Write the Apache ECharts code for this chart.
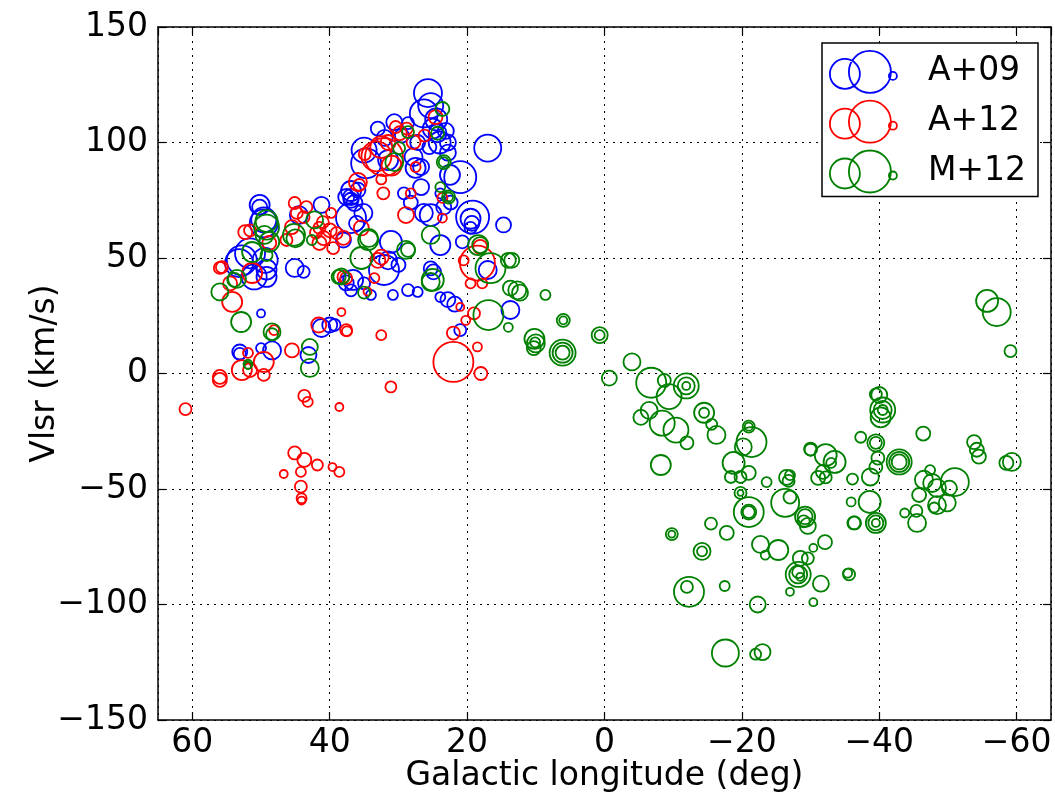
<!DOCTYPE html>
<html>
<head>
<meta charset="utf-8">
<script src="https://cdn.jsdelivr.net/npm/echarts@6/dist/echarts.min.js"></script>
<style>
html,body{margin:0;padding:0;background:#fff;}
#chart{width:1055px;height:793px;}
</style>
</head>
<body>
<div id="chart"></div>
<script>
// Each point: [galactic longitude (deg), Vlsr (km/s), marker amplitude]
const seriesNames = ['A+09', 'A+12', 'M+12'];
const xTicks = [60, 40, 20, 0, -20, -40, -60];
const yTicks = [-150, -100, -50, 0, 50, 100, 150];

const a09 = [
  [50.2,73,20],[50.2,72,15],[49.6,66.5,25],[41.2,73,16],[44.5,68.6,18],[51.6,52,30],[45.1,45.7,18],[43.8,44,12],
  [53.2,47.8,28],[49.4,49,25],[49.2,45,20],[52.8,49,30],[51,41.8,25],[49.2,41.8,20],[38,57.8,15],[36.9,79,20],
  [36.9,75,15],[50,26,8],[53.1,9.3,15],[53.1,8.5,12],[50,11,10],[48.4,10,18],[41.2,19.7,18],[40,21,15],
  [39.3,21,12],[43.1,8,16],[36.6,40.5,20],[25.7,121.4,28],[25.3,116,25],[26.3,112.6,28],[24.5,110,22],[25,106,20],
  [33,106,14],[30.6,108.8,16],[28.6,108.4,12],[27.2,100,15],[24.3,104,18],[23.1,105,16],[22.8,100,16],[22.8,95.6,16],
  [17,97.6,27],[21,85,32],[22.5,86,20],[27.8,93.7,18],[26.7,89.4,16],[27.5,89,20],[35,96.7,25],[34.7,91,30],
  [31.5,92.4,20],[26.7,80.7,16],[29.2,78,12],[28.2,74,14],[35.9,79.4,15],[36.9,76.4,16],[36.4,73.8,16],[23.9,78,10],
  [23.4,72,15],[22.4,74,14],[29.5,103,14],[32,102,16],[25.5,98,14],[24,100,22],[31.1,57,22],[32.1,44.8,30],
  [26.3,69.5,18],[25.3,68.6,22],[23.9,55.6,20],[24.9,44,15],[28.6,36.1,12],[27.2,35.3,10],[23.9,33.1,10],[19.2,67.7,33],
  [19.5,67,20],[19.3,65,15],[19.5,63,12],[14.7,64.3,15],[20.7,57,13],[17,44.8,18],[36.9,67.3,30],[37.6,39.2,15],
  [36.9,36,12],[34,34,10],[30.8,34,10],[30,47,14],[31.5,49,18],[13.7,27.5,18],[21,18.8,12],[22.8,32,15],
  [21.8,30,15],[36.1,65,15],[35.1,69.5,18],[25.3,45.5,14],[35,39,12],[49.6,65,28],[37.6,76.4,16]
];

const a12 = [
  [61,-15.4,12],[56,-1.5,14],[56,-2.8,14],[54.2,31,20],[52.8,1.5,20],[51.6,1.5,14],[49.6,5,20],[49.6,-0.6,12],
  [51.9,8.9,10],[48.1,18.8,10],[45.5,10,14],[41.6,21,15],[38.3,26.6,8],[37.6,18.8,12],[37.5,18.3,10],[43.7,-9.7,12],
  [43.2,-12.3,10],[38.6,-14.5,8],[45.1,-34.4,13],[43.7,-37.4,14],[41.8,-39.6,11],[46.7,-43.5,8],[44.2,-42.6,10],[39.6,-40.5,8],
  [38.6,-42.6,10],[44.2,-49,12],[44.1,-54,10],[44.1,-55,8],[32.5,16.6,10],[31.1,-5.8,11],[22,5,40],[18,0,13],
  [18.5,11.5,9],[22,17.5,13],[20.2,23,9],[19,26,12],[21,28.8,8],[18.5,47.8,35],[20.5,49,10],[19.5,39,10],
  [17.8,39,10],[33.5,41.3,10],[32.5,50.4,15],[34.5,35.5,8],[56,45.7,12],[52.3,61.2,14],[51.6,62,12],[45.1,73.8,12],
  [44.8,69.5,12],[43.8,67.7,12],[45.5,63.4,14],[43.4,72,12],[41.5,63,12],[40.9,58.6,14],[39.8,69.5,10],[40,62,14],
  [39,60.8,12],[38,58.7,14],[39.5,54.3,12],[41.5,56.5,14],[35.7,81.6,12],[38,41.8,12],[54.5,39,14],[55.7,46,12],
  [51.3,43.5,20],[32.1,93.7,38],[32.5,98,22],[31.5,100,15],[30.4,106.7,12],[27.8,100.2,14],[27.5,89.4,10],[24.6,111,14],
  [35.9,82.9,18],[32.2,78,12],[28.2,78,10],[23.6,76,10],[28.9,68.6,16],[23.6,67.3,9],[35.4,63,15],[33,49,15],
  [37.6,41.3,12],[18.1,54.8,14],[29.8,104,14],[28.8,106,12],[33.2,94,30],[31,90,20],[26.2,103,12],[34.9,95,12],
  [32.5,84,10],[46.3,57.8,12],[42,61,12],[41,65.5,12],[48.8,56.5,14]
];

const m12 = [
  [56,35.3,17],[52.9,22.3,20],[48.4,18,17],[48.4,17,12],[51.9,4,9],[51.9,3.5,7],[42.9,11.5,16],[42.9,2.4,18],
  [53.9,40.5,14],[53.5,41,18],[38.7,41.8,14],[49.2,63.4,25],[49.2,66,22],[49.5,60,18],[48.8,57,20],[45.2,60,22],
  [45,58.5,18],[42.2,66.5,17],[51.3,52.6,20],[49.2,51.3,12],[42.6,57.8,10],[34.4,57.8,20],[35.4,50,22],[35,35,12],
  [38.3,42,16],[34.3,58.7,18],[28.9,53.5,18],[28.6,53.5,14],[25.3,60,18],[25,40.5,22],[25.3,39.6,18],[18.4,55.6,20],
  [18.1,55.6,16],[16.6,45.6,30],[13.5,49,15],[14,49,15],[13.7,37,15],[12.7,36,18],[12.3,35,16],[8.6,34,10],
  [6,23,13],[6,23,8],[10.2,15,20],[10,13,18],[10.3,11,14],[10.1,13.5,10],[6.1,9,26],[6.1,9,20],
  [6.1,9,14],[16.9,25.3,30],[14,20,9],[23.6,114.5,14],[24.3,104,13],[28.6,104.5,12],[29.9,97.6,12],[30.6,91.5,18],
  [23.4,91.5,14],[23.4,91.5,10],[23.9,80.7,10],[22.7,76.4,13],[22.7,76.4,9],
  [0.7,16.6,16],[0.7,16.6,10],[-4,5,17],[-0.7,-2,15],[-6.8,-4,30],[-8.7,-3,13],[-11.9,-5.4,25],[-11.9,-5.4,17],
  [-11.9,-5.4,8],[-9.4,-10,25],[-6.5,-16,17],[-5.3,-19,15],[-8.4,-21.5,25],[-10.4,-24.5,25],[-12,-30,13],[-8.2,-39.6,20],
  [-14.5,-17,20],[-14.5,-17,10],[-15.6,-22,11],[-16.3,-26.6,18],[-21,-23,12],[-21,-23,8],[-21.4,-29.7,30],[-20.2,-31.8,17],
  [-18.8,-38.7,22],[-18.4,-44.8,12],[-19.8,-44.8,12],[-21,-43,14],[-19.8,-51.7,12],[-19.8,-51.7,6],[-21,-60,30],[-21,-60,15],
  [-21,-60,12],[-23.6,-47,10],[-26.5,-45,15],[-26.8,-46.5,12],[-27,-44,10],[-26.3,-56,28],[-27,-53.5,13],[-29.2,-62,20],
  [-29.2,-62,15],[-29,-64,12],[-29.6,-66,16],[-30,-33,12],[-15.5,-65,12],[-17.8,-69,14],[-9.8,-69.5,12],[-9.8,-69.5,7],
  [-14.2,-77,17],[-14.2,-77,10],[-22.7,-74,17],[-23.4,-78.6,9],[-25.3,-76.4,20],[-28.5,-80,15],[-29.6,-80,12],[-30.4,-75.5,8],
  [-32.1,-73,14],[-28.2,-87,25],[-28.2,-87,18],[-28.2,-86,12],[-28.5,-88,8],[-31.5,-91,16],[-27,-94.5,8],[-30.4,-99,8],
  [-35.6,-87,12],[-36.3,-64.7,13],[-12.3,-94.5,30],[-12,-92.4,12],[-17.5,-92,10],[-22.3,-100,16],[-17.6,-121,27],[-22,-121.5,11],
  [-23,-120.6,16],[-35.9,-55.6,9],
  [-40,-9.3,16],[-39.5,-9,12],[-40.5,-15.8,25],[-40.5,-15.8,18],[-40.5,-15.8,10],[-40.2,-19,20],[-46.4,-26,14],[-37.3,-27.6,11],
  [-39.5,-30,17],[-39.5,-30,12],[-30,-32.7,13],[-32.2,-35.3,22],[-33.5,-38.3,22],[-33,-38.7,10],[-31.8,-42.6,14],[-31.1,-45.2,14],
  [-32.2,-45,12],[-36.1,-45.7,11],[-38.7,-44.8,17],[-39.5,-40.5,13],[-39.8,-36.6,13],[-42.9,-38.3,25],[-42.9,-38.3,20],[-42.9,-38.3,15],
  [-53.8,-29.7,14],[-54.2,-33,14],[-54.5,-36,14],[-59.3,-38.3,18],[-58.5,-38.7,14],[-47.4,-41.8,10],[-46.5,-46,18],[-47.7,-47.4,18],
  [-48.4,-49.6,18],[-51,-47,28],[-50.2,-49.6,15],[-45.8,-52.6,14],[-48.4,-57,18],[-49.9,-56,17],[-48,-58,10],[-43.7,-60.4,9],
  [-45.4,-59.5,12],[-45.5,-64.7,18],[-38.6,-55.6,22],[-36.4,-64.7,13],[-39.5,-64.7,20],[-39.5,-64.7,15],[-39.5,-64.7,8],[-35.4,-86.4,9],
  [-55.7,31.4,22],[-57.1,26.6,28],[-59.1,9.7,12]
];

const colors = ['#0000ff', '#ff0000', '#008000'];
const FONT = 'DejaVu Sans';
const legendIcon = 'path://M0 23A15 15 0 1 0 30 23A15 15 0 1 0 0 23ZM19 21A21 21 0 1 0 61 21A21 21 0 1 0 19 21ZM59 25A4 4 0 1 0 67 25A4 4 0 1 0 59 25Z';

function fmt(v) {
  return v < 0 ? '\u2212' + Math.abs(v) : String(v);
}

const chart = echarts.init(document.getElementById('chart'), null, {renderer: 'canvas'});

const axisCommon = {
  axisLine: {show: true, onZero: false, lineStyle: {color: '#000', width: 1.5}},
  axisTick: {show: true, inside: true, length: 8, lineStyle: {color: '#000', width: 1.2}},
};

const makeSeries = (name, data, color) => ({
  name: name,
  type: 'scatter',
  data: data,
  xAxisIndex: 0,
  yAxisIndex: 0,
  symbol: 'circle',
  symbolSize: v => v[2],
  itemStyle: {color: 'rgba(0,0,0,0)', borderColor: color, borderWidth: 1.8, opacity: 1},
  emphasis: {disabled: true},
  clip: true
});

chart.setOption({
  animation: false,
  backgroundColor: '#fff',
  textStyle: {fontFamily: FONT},
  grid: {left: 158, right: 4, top: 27, bottom: 73, containLabel: false, outerBoundsMode: 'none'},
  xAxis: [
    Object.assign({
      type: 'value', inverse: true, min: -65, max: 65, splitNumber: 6, minInterval: 20, maxInterval: 20,
      position: 'bottom',
      name: 'Galactic longitude (deg)', nameLocation: 'middle', nameGap: 40, nameMoveOverlap: false,
      nameTextStyle: {fontSize: 33, color: '#000', fontFamily: FONT, verticalAlign: 'top'},
      axisLabel: {
        fontSize: 33, color: '#000', fontFamily: FONT, margin: 7,
        showMinLabel: false, showMaxLabel: false,
        formatter: v => (xTicks.indexOf(v) >= 0 ? fmt(v) : '')
      },
      splitLine: {show: true, lineStyle: {color: '#000', width: 1, type: [2, 5]}}
    }, axisCommon),
    Object.assign({
      type: 'value', inverse: true, min: -65, max: 65, splitNumber: 6, minInterval: 20, maxInterval: 20,
      position: 'top', axisLabel: {show: false}, splitLine: {show: false}
    }, axisCommon)
  ],
  yAxis: [
    Object.assign({
      type: 'value', min: -150, max: 150, interval: 50, position: 'left',
      name: 'Vlsr (km/s)', nameLocation: 'middle', nameGap: 96, nameMoveOverlap: false,
      nameTextStyle: {fontSize: 33, color: '#000', fontFamily: FONT},
      axisLabel: {
        fontSize: 33, color: '#000', fontFamily: FONT, margin: 10,
        formatter: v => (yTicks.indexOf(v) >= 0 ? fmt(v) : '')
      },
      splitLine: {show: true, lineStyle: {color: '#000', width: 1, type: [2, 5]}}
    }, axisCommon),
    Object.assign({
      type: 'value', min: -150, max: 150, interval: 50, position: 'right',
      axisLabel: {show: false}, splitLine: {show: false}
    }, axisCommon)
  ],
  legend: {
    show: true,
    orient: 'vertical',
    left: 822,
    top: 43,
    padding: [7, 12, 3, 7],
    itemWidth: 67,
    itemHeight: 42,
    itemGap: 6,
    backgroundColor: '#fff',
    borderColor: '#000',
    borderWidth: 1.5,
    borderRadius: 0,
    selectedMode: false,
    textStyle: {fontSize: 33, color: '#000', fontFamily: FONT, padding: [0, 0, 0, 26]},
    data: seriesNames.map((n, i) => ({
      name: n,
      icon: legendIcon,
      itemStyle: {color: 'rgba(0,0,0,0)', borderColor: colors[i], borderWidth: 1.8}
    }))
  },
  series: [
    makeSeries(seriesNames[0], a09, colors[0]),
    makeSeries(seriesNames[1], a12, colors[1]),
    makeSeries(seriesNames[2], m12, colors[2])
  ]
});
</script>
</body>
</html>
